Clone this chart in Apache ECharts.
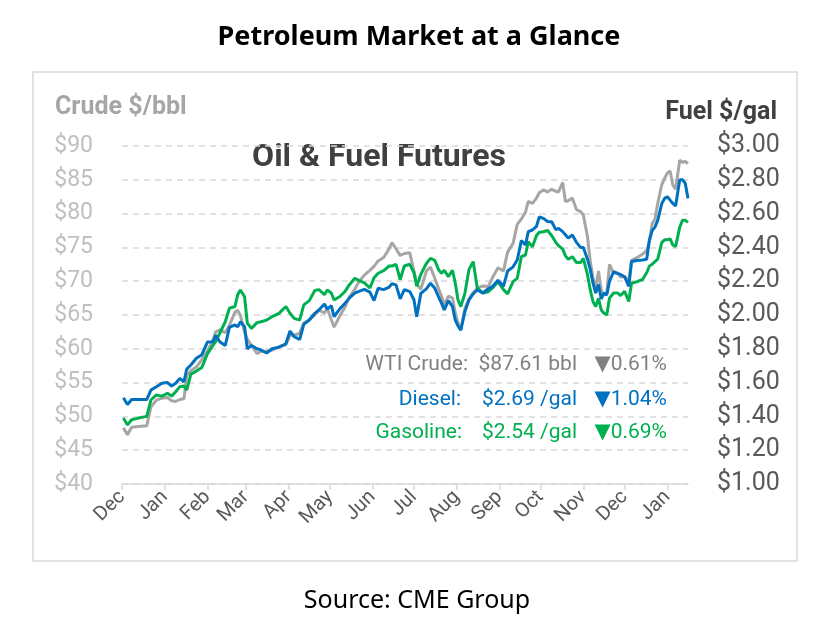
<!DOCTYPE html>
<html>
<head>
<meta charset="utf-8">
<script src="https://cdn.jsdelivr.net/npm/echarts@6/dist/echarts.min.js"></script>
<style>html,body{margin:0;padding:0;background:#fff;}#chart{width:838px;height:628px;}</style>
</head>
<body>
<div id="chart"></div>
<script>
// ---- DATA ----
const startDate = [2020, 11, 1]; // 1 Dec 2020
const endOffset = 411;            // axis end, days after start
const dayOffsets = [1,4,7,12,18,21,25,29,33,36,39,42,45,47,50,54,58,62,66,68,71,75,78,82,84,86,89,91,94,98,101,105,109,114,119,122,125,129,132,136,140,143,147,149,152,154,158,162,165,169,172,176,180,183,186,190,194,196,199,202,205,209,212,214,217,221,224,227,230,232,234,237,240,242,244,246,249,252,255,258,262,266,269,273,277,280,284,287,290,293,295,298,301,303,306,309,312,315,317,320,322,324,327,330,333,335,338,340,342,344,346,348,350,352,354,357,360,362,365,368,370,374,378,381,383,385,387,389,392,394,396,398,400,402,405,407,409,411];
const crude = [48.3,47.3,48.4,48.5,48.6,51.4,52.4,52.7,52.8,52.3,52.2,52.5,52.6,56.0,56.8,57.3,58.4,59.7,61.2,62.5,62.8,62.4,63.5,65.4,65.7,64.9,62.5,61.4,60.5,59.3,59.6,59.6,59.8,60.3,60.6,62.0,62.0,62.3,63.8,64.3,65.0,65.7,65.3,66.0,64.3,63.2,64.8,66.2,67.6,68.8,69.9,70.9,71.6,72.2,73.0,73.5,74.8,75.7,74.8,73.8,74.1,74.2,71.5,69.6,68.8,71.5,72.1,70.5,68.8,67.8,66.5,67.8,67.5,65.3,63.8,62.8,66.0,67.4,68.3,69.0,69.3,69.2,70.5,72.0,71.5,74.3,75.6,78.4,79.2,80.2,81.8,81.5,82.3,83.1,83.5,83.2,83.6,83.3,83.2,84.6,81.8,81.9,82.3,80.6,80.3,79.8,76.6,73.0,70.5,69.0,71.5,68.7,68.0,68.2,72.5,71.2,71.2,70.6,70.7,70.0,73.1,73.5,74.0,74.5,76.0,78.5,79.2,81.5,84.3,85.2,86.0,86.3,84.2,83.6,87.9,87.6,87.7,87.4];
const diesel = [1.51,1.47,1.50,1.50,1.50,1.556,1.576,1.596,1.60,1.58,1.596,1.625,1.605,1.68,1.704,1.744,1.765,1.84,1.842,1.88,1.842,1.82,1.927,1.941,1.931,1.96,1.931,1.80,1.82,1.80,1.793,1.775,1.80,1.81,1.83,1.905,1.872,1.855,1.945,1.97,2.01,2.03,2.065,2.035,2.055,1.99,2.035,2.07,2.10,2.13,2.14,2.152,2.135,2.085,2.158,2.15,2.165,2.185,2.178,2.095,2.15,2.138,2.09,1.99,2.128,2.155,2.188,2.16,2.105,2.07,2.03,2.085,2.05,1.97,1.935,1.91,2.02,2.09,2.125,2.148,2.13,2.155,2.168,2.205,2.17,2.26,2.285,2.325,2.44,2.414,2.493,2.503,2.525,2.58,2.572,2.553,2.552,2.505,2.513,2.493,2.475,2.455,2.473,2.43,2.40,2.40,2.33,2.27,2.19,2.13,2.18,2.095,2.13,2.118,2.20,2.256,2.245,2.24,2.225,2.17,2.316,2.322,2.325,2.33,2.444,2.50,2.52,2.56,2.66,2.69,2.70,2.68,2.66,2.645,2.80,2.80,2.78,2.69];
const gasoline = [1.39,1.35,1.38,1.39,1.40,1.497,1.527,1.52,1.537,1.52,1.546,1.576,1.58,1.556,1.65,1.668,1.69,1.77,1.82,1.842,1.892,1.96,2.04,2.05,2.12,2.148,2.108,1.951,1.921,1.955,1.96,1.97,1.99,2.01,2.05,2.01,1.98,1.97,2.06,2.085,2.145,2.15,2.12,2.148,2.13,2.089,2.108,2.14,2.178,2.217,2.205,2.19,2.16,2.22,2.247,2.262,2.29,2.29,2.30,2.21,2.29,2.30,2.25,2.17,2.24,2.305,2.335,2.325,2.266,2.247,2.265,2.227,2.265,2.188,2.089,2.05,2.128,2.27,2.316,2.16,2.13,2.138,2.16,2.197,2.15,2.125,2.197,2.217,2.345,2.355,2.434,2.404,2.47,2.49,2.493,2.50,2.47,2.43,2.41,2.39,2.35,2.33,2.345,2.31,2.31,2.335,2.24,2.15,2.08,2.05,2.099,2.03,2.01,2.0,2.10,2.13,2.13,2.115,2.14,2.08,2.188,2.197,2.21,2.25,2.29,2.30,2.316,2.33,2.43,2.445,2.445,2.45,2.414,2.405,2.52,2.56,2.56,2.548];
const monthNames = ['Jan','Feb','Mar','Apr','May','Jun','Jul','Aug','Sep','Oct','Nov','Dec'];
const crudeAxis = {min: 40, max: 90, step: 5};
const fuelAxis = {min: 1, max: 3, step: 0.2};
const summaryLabels = ['WTI Crude:', 'Diesel:', 'Gasoline:'];
const summaryPrices = ['$87.61 bbl', '$2.69 /gal', '$2.54 /gal'];
const summaryChanges = ['\u25BC0.61%', '\u25BC1.04%', '\u25BC0.69%'];

// ---- BUILD ----
const toTime = d => new Date(startDate[0], startDate[1], startDate[2] + d).getTime();
const pairs = vals => dayOffsets.map((d, i) => [toTime(d), vals[i]]);

const COL_GRAY = '#a6a6a6', COL_BLUE = '#0070c0', COL_GREEN = '#00b050';
const summaryColors = ['#808080', COL_BLUE, COL_GREEN];
const FONT = 'Roboto, "DejaVu Sans", sans-serif';

const graphics = [
  {type: 'rect', shape: {x: 33, y: 72, width: 764, height: 489}, style: {fill: 'none', stroke: '#d9d9d9', lineWidth: 1.5}, silent: true},
  {type: 'text', x: 419, y: 37, style: {text: 'Petroleum Market at a Glance', font: 'bold 27px "Noto Sans", sans-serif', fill: '#000', textAlign: 'center', textVerticalAlign: 'middle'}},
  {type: 'text', x: 417, y: 601, style: {text: 'Source: CME Group', font: '25px "Noto Sans", sans-serif', fill: '#000', textAlign: 'center', textVerticalAlign: 'middle'}},
  {type: 'text', x: 55, y: 108, style: {text: 'Crude $/bbl', font: 'bold 25px ' + FONT, fill: COL_GRAY, textAlign: 'left', textVerticalAlign: 'middle'}},
  {type: 'text', x: 777, y: 113, style: {text: 'Fuel $/gal', font: 'bold 25px ' + FONT, fill: '#404040', textAlign: 'right', textVerticalAlign: 'middle'}},
  {type: 'text', x: 379, y: 158, style: {text: 'Oil & Fuel Futures', font: 'bold 32px ' + FONT, fill: '#404040', textAlign: 'center', textVerticalAlign: 'middle'}}
];
const rowY = [365, 400, 433];
const labelRight = [468, 461, 462];
summaryLabels.forEach((t, i) => {
  const base = {textAlign: 'right', textVerticalAlign: 'middle', fill: summaryColors[i], font: '21px ' + FONT};
  graphics.push({type: 'text', x: labelRight[i], y: rowY[i], style: Object.assign({text: t}, base)});
  graphics.push({type: 'text', x: 577, y: rowY[i], style: Object.assign({text: summaryPrices[i]}, base)});
  graphics.push({type: 'text', x: 667, y: rowY[i], style: Object.assign({text: summaryChanges[i]}, base)});
});

const chart = echarts.init(document.getElementById('chart'), null, {renderer: 'canvas'});
chart.setOption({
  animation: false,
  backgroundColor: '#fff',
  grid: {left: 122, right: 150, top: 146, bottom: 144, containLabel: false},
  xAxis: {
    type: 'time',
    min: toTime(0), max: toTime(endOffset),
    minInterval: 28 * 864e5, maxInterval: 31 * 864e5,
    axisLine: {lineStyle: {color: '#d9d9d9', width: 1.5}},
    axisTick: {show: true, length: 6, lineStyle: {color: '#d9d9d9', width: 1.5}},
    splitLine: {show: false},
    minorTick: {show: false},
    axisLabel: {
      rotate: 45, color: '#595959', fontFamily: FONT, fontSize: 20, fontWeight: 'normal', margin: 10,
      showMinLabel: true, showMaxLabel: false,
      formatter: v => monthNames[new Date(v).getMonth()]
    }
  },
  yAxis: [
    {
      type: 'value', position: 'left', min: crudeAxis.min, max: crudeAxis.max, interval: crudeAxis.step,
      axisLine: {show: false}, axisTick: {show: false},
      splitLine: {show: true, lineStyle: {color: '#d9d9d9', type: [6, 5], width: 1.5}},
      axisLabel: {color: '#bfbfbf', fontFamily: FONT, fontSize: 23, margin: 29, formatter: v => '$' + v}
    },
    {
      type: 'value', position: 'right', min: fuelAxis.min, max: fuelAxis.max, interval: fuelAxis.step,
      axisLine: {show: false}, axisTick: {show: false}, splitLine: {show: false},
      axisLabel: {color: '#595959', fontFamily: FONT, fontSize: 25, margin: 29, formatter: v => '$' + v.toFixed(2)}
    }
  ],
  series: [
    {name: 'WTI Crude', type: 'line', yAxisIndex: 0, data: pairs(crude), showSymbol: false, symbol: 'none', lineStyle: {color: COL_GRAY, width: 3}, itemStyle: {color: COL_GRAY}, z: 2},
    {name: 'Gasoline', type: 'line', yAxisIndex: 1, data: pairs(gasoline), showSymbol: false, symbol: 'none', lineStyle: {color: COL_GREEN, width: 3}, itemStyle: {color: COL_GREEN}, z: 3},
    {name: 'Diesel', type: 'line', yAxisIndex: 1, data: pairs(diesel), showSymbol: false, symbol: 'none', lineStyle: {color: COL_BLUE, width: 3}, itemStyle: {color: COL_BLUE}, z: 4}
  ],
  graphic: graphics
});
</script>
</body>
</html>
